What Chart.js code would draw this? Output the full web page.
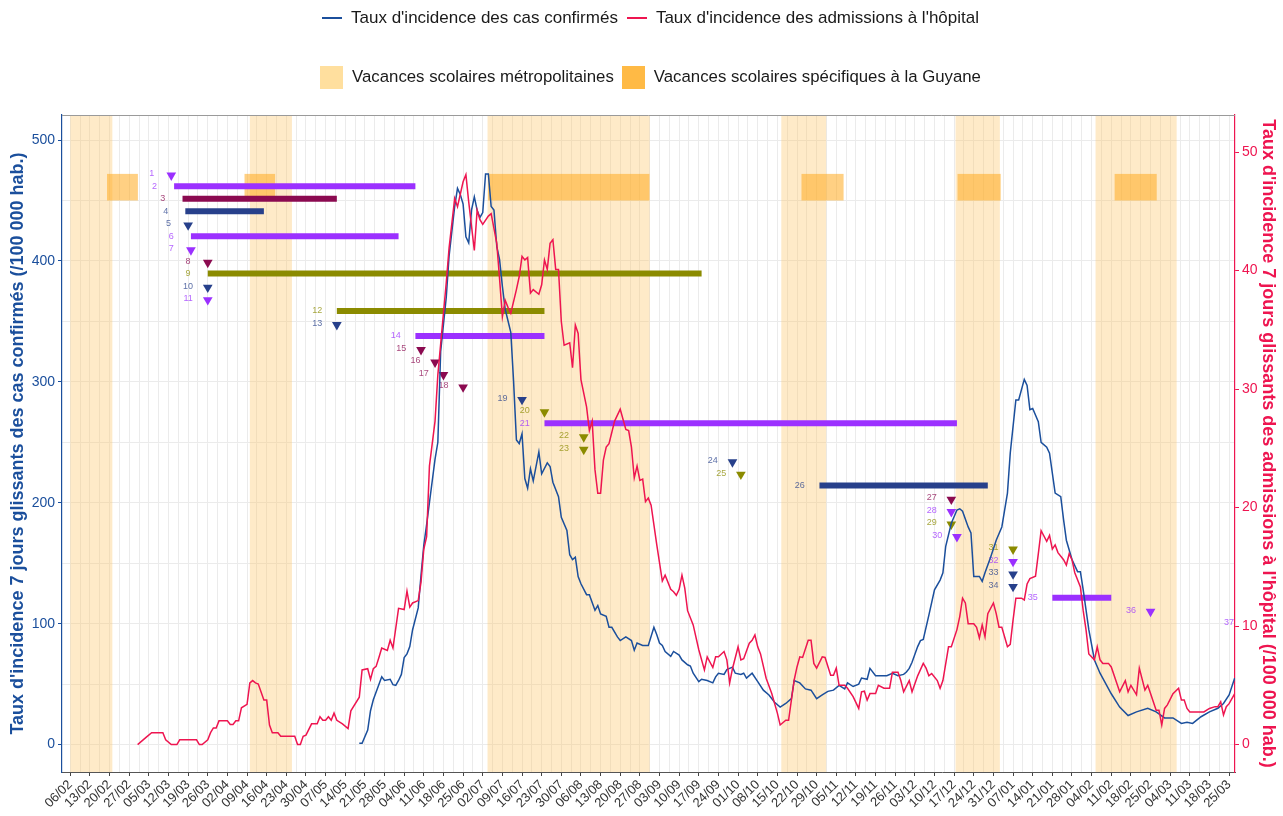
<!DOCTYPE html>
<html lang="fr">
<head>
<meta charset="utf-8">
<script src="https://cdn.jsdelivr.net/npm/chart.js@4.4.1/dist/chart.umd.min.js"></script>
<style>
  body { margin: 0; background: #fff; font-family: "Liberation Sans", Arial, sans-serif; }
  #wrap { position: relative; width: 1283px; height: 816px; }
  #chart { position: absolute; left: 0; top: 0; }
  .legend { position: absolute; left: 9px; width: 1283px; display: flex; justify-content: center; align-items: center; font-size: 17px; color: #1a1a1a; }
  .lk { display: inline-block; width: 20px; height: 2px; margin-right: 9px; }
  .bk { display: inline-block; width: 23px; height: 23px; margin-right: 9px; }
</style>
</head>
<body>
<div id="wrap">
  <canvas id="chart" width="1283" height="816"></canvas>
  <div class="legend" style="top:7px;height:22px;">
    <span class="lk" style="background:#1B4F9C"></span><span>Taux d'incidence des cas confirmés</span>
    <span class="lk" style="background:#EE1550;margin-left:9px"></span><span>Taux d'incidence des admissions à l'hôpital</span>
  </div>
  <div class="legend" style="top:65px;height:24px;font-size:16.8px;">
    <span class="bk" style="background:#FFDF9E"></span><span>Vacances scolaires métropolitaines</span>
    <span class="bk" style="background:#FFBA45;margin-left:8px"></span><span>Vacances scolaires spécifiques à la Guyane</span>
  </div>
</div>
<script>
// all x values are days since 06/02/2020
const DAY0 = Date.UTC(2020, 1, 6);

// taux d'incidence des cas confirmés (axe gauche) : [jour, valeur]
const casPts = [
  [103,1],[104,1],[106,12],[107,28],[108,37],[111,56],[112,53],[114,54],[115,49.5],[116,49],
  [117,53],[118,58],[119,72],[120,75],[121,81],[122,95],[124,113],[125,140],[126,165],[127,182],
  [128,200],[130,236],[131,250],[132,325],[134,370],[135,404],[137,445],[138,460],[139,455],[140,447],
  [141,420],[142,415],[143,442],[144,453],[145,442],[146,436],[147,440],[148,472],[149,472],[150,445],
  [151,442],[152,412],[153,401],[154,379],[155,360],[157,341],[158,300],[159,252],[160,249],[161,257],
  [162,220],[163,212],[164,228],[165,218],[167,242],[168,224],[170,233],[171,230],[172,217],[174,205],
  [175,188],[177,177],[178,157],[179,153],[180,155],[181,139],[182,133],[184,124],[185,124],[187,111],
  [188,115],[189,108],[191,106],[192,97],[193,97],[195,89],[196,86],[198,89],[200,86],[201,78],
  [202,84],[204,82],[206,82],[208,97],[209,91],[210,84],[211,82],[212,77],[214,73],[215,77],
  [217,74],[218,70],[220,66],[221,65],[222,59],[224,52],[225,54],[227,53],[229,51],[230,56],
  [231,59],[233,58],[234,62],[236,64],[237,59],[239,58],[240,59],[241,55],[243,59],[245,52],
  [247,45],[249,41],[251,35],[253,31],[255,34],[257,38],[258,53],[260,51],[262,46],[264,45],
  [266,38],[268,41],[270,44],[272,45],[274,49],[276,46],[277,51],[279,48],[281,50],[282,55],
  [284,54],[285,63],[287,57],[289,57],[291,57],[293,59],[295,57],[297,58],[298,60],[299,63],
  [300,68],[302,81],[303,86],[304,87],[306,107],[308,128],[310,136],[311,142],[312,164],[314,183],
  [316,194],[317,195],[318,193],[320,180],[321,175],[322,139],[324,139],[325,135],[326,142],[328,155],
  [330,169],[332,180],[334,208],[335,241],[337,285],[338,285],[340,302],[341,297],[342,277],[343,278],
  [345,267],[346,250],[348,246],[349,241],[351,208],[353,205],[354,186],[355,169],[357,153],[359,143],
  [360,143],[361,128],[363,95],[365,70],[367,59],[371,42],[374,31],[377,24],[380,27],[384,30],
  [387,27],[390,22],[393,22],[396,17.5],[398,18.5],[400,17.5],[403,23],[406,27],[409,30],[411,34],
  [413,41],[415,55]
];

// taux d'incidence des admissions à l'hôpital (axe droit) : [jour, valeur]
const hospPts = [
  [24,0],[27,0.6],[29,1.0],[33,1.0],[34,0.4],[36,0],[38,0],[39,0.4],[45,0.4],[46,0],
  [47,0],[49,0.4],[50,1.0],[51,1.4],[52,1.4],[53,2.0],[56,2.0],[57,1.7],[58,1.7],[59,2.0],
  [60,2.0],[61,3.1],[63,3.4],[64,5.2],[65,5.4],[66,5.2],[67,5.1],[69,3.75],[70,3.75],[71,1.65],
  [72,1.0],[74,1.0],[75,0.7],[80,0.7],[81,0],[82,0],[83,0.7],[84,0.8],[86,1.75],[88,1.75],
  [89,2.35],[90,2.05],[91,2.05],[92,2.35],[93,2.05],[94,2.65],[95,2.05],[97,1.75],[99,1.35],[100,2.85],
  [103,4.0],[104,6.3],[106,6.4],[107,5.5],[108,6.4],[109,6.6],[110,7.35],[111,8.15],[113,7.95],[114,8.8],
  [115,8.15],[117,11.5],[119,11.4],[120,12.95],[121,11.6],[122,11.95],[124,12.15],[125,13.7],[126,16.5],[127,17.55],
  [128,23.5],[130,27.3],[131,31.2],[134,39.0],[135,41.9],[137,46.1],[138,45.4],[140,47.5],[141,48.1],[142,45.8],
  [144,41.7],[145,45.1],[146,44.3],[147,43.9],[149,44.6],[150,44.8],[152,42.3],[153,39.3],[154,36.1],[155,37.5],
  [156,36.9],[157,36.4],[159,38.4],[160,39.5],[161,41.2],[162,40.9],[163,41.1],[164,38.1],[165,38.4],[167,38.0],
  [168,38.8],[169,40.9],[170,40.1],[171,42.3],[172,42.6],[173,40.1],[174,40.1],[175,35.7],[176,33.7],[178,33.9],
  [179,31.8],[180,35.4],[181,34.7],[182,30.8],[184,28.5],[185,26.5],[186,27.3],[187,23.2],[188,21.2],[189,21.2],
  [190,24.0],[191,25.1],[192,25.4],[194,27.3],[196,28.3],[198,26.6],[199,26.5],[200,25.1],[201,22.5],[202,23.5],
  [203,22.3],[204,22.4],[205,20.5],[206,20.8],[207,20.2],[209,16.9],[211,13.8],[212,14.3],[214,13.1],[215,12.9],
  [216,12.6],[217,13.1],[218,14.3],[219,13.2],[220,11.3],[222,10.1],[224,8.0],[226,6.3],[227,7.4],[229,6.5],
  [230,7.4],[231,7.4],[233,7.85],[234,7.15],[235,5.2],[236,6.4],[238,8.25],[239,7.15],[240,7.25],[242,8.55],
  [243,8.8],[244,9.25],[245,8.25],[246,7.65],[248,5.6],[250,4.3],[252,2.65],[253,1.65],[255,2.05],[256,2.05],
  [258,5.45],[259,6.55],[260,7.4],[261,7.35],[263,8.8],[264,8.8],[265,6.85],[266,6.45],[268,7.4],[269,7.35],
  [271,5.85],[272,5.85],[273,6.45],[274,5.0],[276,5.0],[277,4.75],[279,4.05],[281,3.05],[282,4.45],[283,4.5],
  [284,3.75],[285,4.3],[287,4.3],[288,5.0],[290,4.75],[292,4.75],[293,6.1],[295,6.1],[296,5.4],[297,4.45],
  [299,5.4],[300,4.45],[302,5.8],[304,6.85],[305,6.45],[306,5.8],[307,6.0],[309,5.4],[310,4.75],[311,5.4],
  [313,8.25],[314,8.25],[316,9.7],[317,10.8],[318,12.35],[319,11.95],[320,10.2],[322,10.2],[323,9.9],[324,9.0],
  [325,10.1],[326,9.1],[327,11.05],[329,11.95],[330,11.05],[331,9.9],[332,9.9],[334,8.25],[335,8.45],[336,10.5],
  [337,12.35],[339,12.35],[340,12.2],[341,13.55],[342,14.0],[344,14.2],[345,16.1],[346,18.05],[348,17.15],[349,17.65],
  [350,16.5],[351,16.85],[352,16.2],[354,15.6],[355,15.15],[356,16.1],[357,15.6],[358,14.5],[360,13.3],[361,11.3],
  [362,9.7],[363,7.65],[365,7.15],[366,8.25],[367,7.15],[368,6.85],[370,6.85],[371,6.55],[373,5.15],[374,4.45],
  [376,5.4],[377,4.45],[378,5.0],[380,4.2],[381,6.45],[383,4.6],[384,5.0],[385,4.3],[387,2.9],[388,2.9],
  [389,1.65],[390,3.05],[391,3.35],[393,4.3],[395,4.75],[396,3.75],[397,3.75],[398,3.05],[399,2.75],[404,2.75],
  [406,3.05],[408,3.2],[409,3.2],[410,3.6],[411,2.5],[412,3.2],[413,3.45],[415,4.3]
];

// vacances scolaires (jours)
const metroStart = [0, 64, 148.7, 253.4, 315.5, 365.4];
const metroEnd   = [15, 79, 206.5, 269.4, 331.3, 394.3];
const guyStart   = [13.1, 62.1, 148.9, 260.6, 316.2, 372.2];
const guyEnd     = [24.1, 73, 206.4, 275.6, 331.6, 387.2];
const guyBand    = [450, 472]; // valeurs de l'axe gauche

// événements numérotés : début, fin (segment) ou null (triangle), type
const evStart = [36,37,40,41,42,43,43,49,49,49,49,95,95,123,125,130,133,140,161,169,169,183,183,236,239,267,314,314,314,316,336,336,336,336,350,385,420];
const evEnd = [null,123,95,69,null,117,null,null,225,null,null,169,null,169,null,null,null,null,null,null,316,null,null,null,null,327,null,null,null,null,null,null,null,null,371,null,null];
const evKind = ['p','p','m','n','n','p','p','m','o','n','p','o','n','p','m','m','m','m','n','o','p','o','o','n','o','n','m','p','o','p','o','p','n','n','p','p','p'];

const BLUE = '#1B4F9C', RED = '#EE1550';
const evColor = { p: '#9B30FF', m: '#8B0A50', n: '#27408B', o: '#8B8B00' };
const evLabel = { p: 'rgba(155,48,255,0.75)', m: 'rgba(139,10,80,0.75)', n: 'rgba(39,64,139,0.75)', o: 'rgba(139,139,0,0.75)' };
const rowY = i => 472 - i * 10.31;

const fmtDay = d => {
  const dt = new Date(DAY0 + Math.round(d) * 864e5);
  return String(dt.getUTCDate()).padStart(2, '0') + '/' + String(dt.getUTCMonth() + 1).padStart(2, '0');
};
const isWeek = v => Math.abs(v / 7 - Math.round(v / 7)) < 1e-6;

const bandPlugin = {
  id: 'bands',
  beforeDatasetsDraw(chart) {
    const { ctx, chartArea: a, scales: { x, y } } = chart;
    ctx.save();
    ctx.beginPath();
    ctx.rect(a.left, a.top, a.width, a.height);
    ctx.clip();
    ctx.fillStyle = 'rgba(253,200,110,0.38)';
    metroStart.forEach((s, i) => {
      const x0 = x.getPixelForValue(s), x1 = x.getPixelForValue(metroEnd[i]);
      ctx.fillRect(x0, a.top, x1 - x0, a.height);
    });
    ctx.fillStyle = 'rgba(255,170,30,0.55)';
    const yTop = y.getPixelForValue(guyBand[1]), yBot = y.getPixelForValue(guyBand[0]);
    guyStart.forEach((s, i) => {
      const x0 = x.getPixelForValue(s), x1 = x.getPixelForValue(guyEnd[i]);
      ctx.fillRect(x0, yTop, x1 - x0, yBot - yTop);
    });
    // numéros des événements
    ctx.font = '9px "Liberation Sans", Arial, sans-serif';
    ctx.textAlign = 'center';
    ctx.textBaseline = 'middle';
    evStart.forEach((s, i) => {
      ctx.fillStyle = evLabel[evKind[i]];
      ctx.fillText(String(i + 1), x.getPixelForValue(s - 7), y.getPixelForValue(rowY(i)));
    });
    ctx.restore();
  }
};

const framePlugin = {
  id: 'frame',
  afterDraw(chart) {
    const { ctx, chartArea: a } = chart;
    ctx.save();
    ctx.strokeStyle = '#9a9a9a';
    ctx.lineWidth = 1;
    ctx.beginPath();
    ctx.moveTo(a.left, a.top + 0.5);
    ctx.lineTo(a.right, a.top + 0.5);
    ctx.stroke();
    ctx.restore();
  }
};

const datasets = [
  {
    type: 'line', label: 'hosp', yAxisID: 'y2', order: 0,
    data: hospPts.map(p => ({ x: p[0], y: p[1] })),
    borderColor: RED, borderWidth: 1.5, pointRadius: 0, tension: 0
  },
  {
    type: 'line', label: 'cas', yAxisID: 'y', order: 1,
    data: casPts.map(p => ({ x: p[0], y: p[1] })),
    borderColor: BLUE, borderWidth: 1.5, pointRadius: 0, tension: 0
  }
];

evStart.forEach((s, i) => {
  if (evEnd[i] === null) return;
  datasets.push({
    type: 'line', yAxisID: 'y', order: 2,
    data: [{ x: s, y: rowY(i) }, { x: evEnd[i], y: rowY(i) }],
    borderColor: evColor[evKind[i]], borderWidth: 6, borderCapStyle: 'butt',
    pointRadius: 0
  });
});

const triIdx = evStart.map((s, i) => i).filter(i => evEnd[i] === null);
datasets.push({
  type: 'scatter', yAxisID: 'y', order: 2, clip: 0,
  data: triIdx.map(i => ({ x: evStart[i], y: rowY(i) - 1.2 })),
  pointStyle: 'triangle', rotation: 180, pointRadius: 5.6, pointBorderWidth: 0,
  pointBackgroundColor: triIdx.map(i => evColor[evKind[i]]),
  pointBorderColor: triIdx.map(i => evColor[evKind[i]])
});

Chart.defaults.font.family = '"Liberation Sans", Arial, sans-serif';

new Chart(document.getElementById('chart'), {
  type: 'line',
  data: { datasets },
  plugins: [bandPlugin, framePlugin],
  options: {
    responsive: false,
    animation: false,
    events: [],
    layout: { padding: { top: 115, left: 0, right: 0, bottom: 0 } },
    plugins: { legend: { display: false }, tooltip: { enabled: false } },
    scales: {
      x: {
        type: 'linear', min: -2.95, max: 415.1,
        afterBuildTicks(scale) {
          const t = [];
          for (let v = 0; v <= scale.max; v += 3.5) t.push({ value: v });
          scale.ticks = t;
        },
        afterFit(scale) { scale.height = 44; },
        ticks: {
          autoSkip: false, minRotation: 45, maxRotation: 45, padding: 1,
          color: '#333', font: { size: 13 },
          callback: v => isWeek(v) ? fmtDay(v) : ''
        },
        grid: {
          color: '#EBEBEB', lineWidth: 1, tickLength: 4,
          tickColor: c => (c.tick && isWeek(c.tick.value)) ? '#444' : 'rgba(0,0,0,0)'
        },
        border: { color: '#555', width: 1 }
      },
      y: {
        type: 'linear', position: 'left', min: -22.7, max: 520.7,
        afterBuildTicks(scale) {
          const t = [];
          for (let v = 0; v <= 500; v += 50) t.push({ value: v });
          scale.ticks = t;
        },
        afterFit(scale) { scale.width = 62; },
        ticks: {
          color: BLUE, font: { size: 14 }, padding: 3,
          callback: v => v % 100 === 0 ? String(v) : ''
        },
        grid: {
          color: '#EBEBEB', lineWidth: 1, tickLength: 4,
          tickColor: c => (c.tick && c.tick.value % 100 === 0) ? BLUE : 'rgba(0,0,0,0)'
        },
        border: { color: BLUE, width: 1.2 },
        title: {
          display: true, color: BLUE, padding: { top: 7, bottom: 0 },
          font: { size: 18, weight: 'bold' },
          text: "Taux d'incidence 7 jours glissants des cas confirmés (/100 000 hab.)"
        }
      },
      y2: {
        type: 'linear', position: 'right', min: -22.7 / 9.8, max: 520.7 / 9.8,
        afterBuildTicks(scale) {
          const t = [];
          for (let v = 0; v <= 50; v += 10) t.push({ value: v });
          scale.ticks = t;
        },
        afterFit(scale) { scale.width = 48; },
        ticks: { color: RED, font: { size: 14 }, padding: 3 },
        grid: { drawOnChartArea: false, tickLength: 4, tickColor: RED },
        border: { color: RED, width: 1.2 },
        title: {
          display: true, color: RED, padding: { top: 4, bottom: 0 },
          font: { size: 18, weight: 'bold' },
          text: "Taux d'incidence 7 jours glissants des admissions à l'hôpital (/100 000 hab.)"
        }
      }
    }
  }
});
</script>
</body>
</html>
